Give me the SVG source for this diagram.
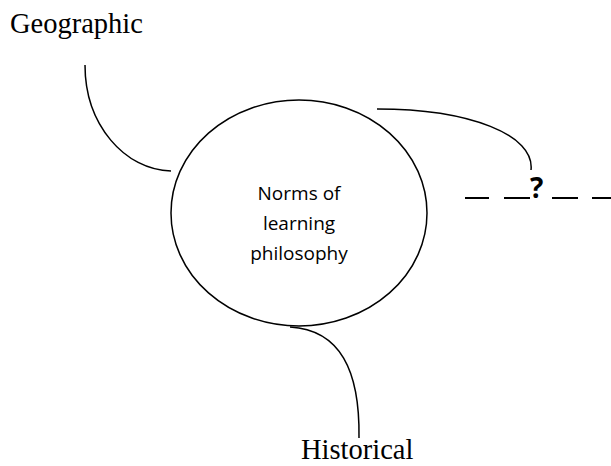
<svg xmlns="http://www.w3.org/2000/svg" width="611" height="466" viewBox="0 0 611 466">
<style>
.serif{font-family:"Liberation Serif","Times New Roman",serif;font-size:28.5px;fill:#000}
.sans{font-family:"Open Sans","Noto Sans",sans-serif;font-size:19px;fill:#000;text-anchor:middle}
.q{font-family:"Open Sans","Liberation Sans",sans-serif;font-size:28px;font-weight:bold;fill:#000}
.conn{fill:none;stroke:#000;stroke-width:1.5}
.dash{stroke:#000;stroke-width:2}
</style>
<rect width="611" height="466" fill="#fff"/>
<g id="connectors">
<path class="conn" d="M85,65 C85,125 125,170 171,171"/>
<path class="conn" d="M377,109 C470,109 535,135 531,170"/>
<path class="conn" d="M290,327 C340,330 360,370 359,438"/>
</g>
<g id="center">
<ellipse cx="299" cy="213" rx="128" ry="113" fill="none" stroke="#000" stroke-width="1.5"/>
<text class="sans" x="299" y="200">Norms of</text>
<text class="sans" x="299" y="230">learning</text>
<text class="sans" x="299" y="260">philosophy</text>
</g>
<g id="geographic">
<text class="serif" x="10" y="33">Geographic</text>
</g>
<g id="historical">
<text class="serif" x="301" y="459">Historical</text>
</g>
<g id="unknown">
<line class="dash" x1="465" y1="198" x2="489" y2="198"/>
<line class="dash" x1="504" y1="198" x2="530" y2="198"/>
<text class="q" x="530" y="198">?</text>
<line class="dash" x1="552" y1="198" x2="578" y2="198"/>
<line class="dash" x1="592" y1="198" x2="611" y2="198"/>
</g>
</svg>
